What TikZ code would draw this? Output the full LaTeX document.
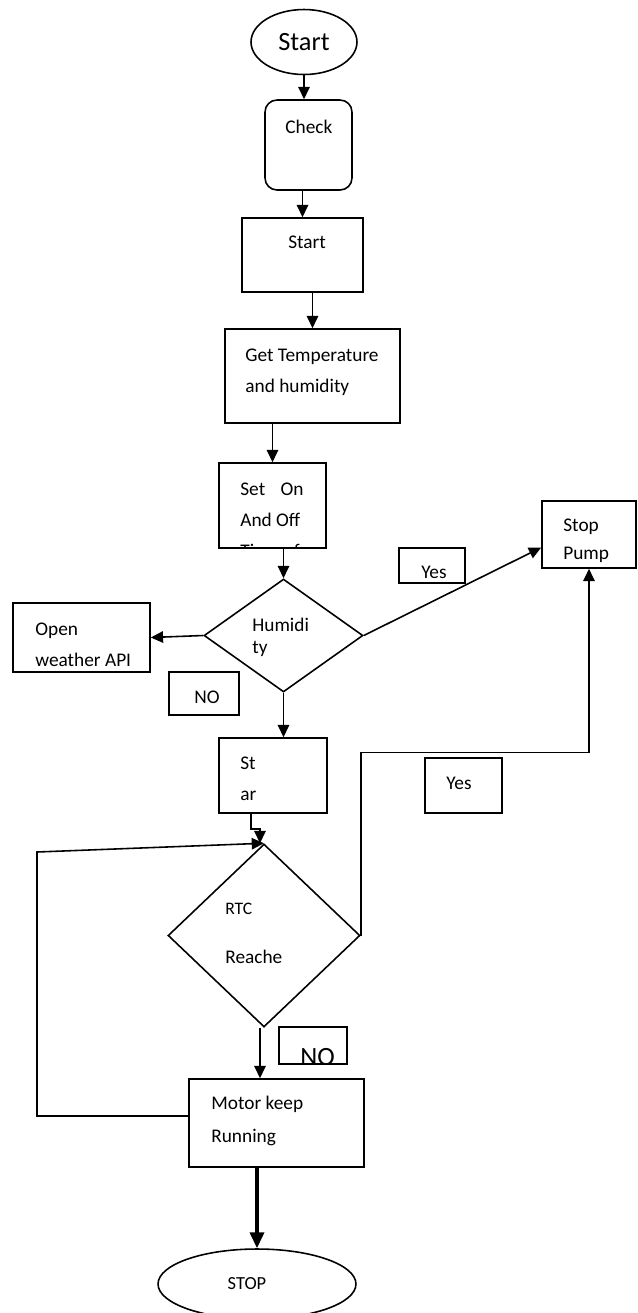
\documentclass[tikz,border=0pt]{standalone}
\usepackage{fontspec}
\setmainfont{Carlito}
\usetikzlibrary{shapes.geometric,arrows.meta}

\tikzset{
    box/.style={
           rectangle,
           draw=black, line width=0.9pt,
           inner sep=0pt,
           },
    term/.style={ellipse, draw=black, line width=0.9pt, inner sep=0pt},
    decision/.style={diamond, draw=black, line width=0.9pt, inner sep=0pt},
    txt/.style={anchor=base west, align=left, inner sep=0pt, font=\fontsize{11}{17.5}\selectfont},
    arr/.style={line width=0.9pt, -{Triangle[length=7pt,width=6.5pt]}},
}

\begin{document}
\begin{tikzpicture}[x=0.02cm,y=-0.02cm]
\useasboundingbox (0,0) rectangle (638,1313);

       % start and stop
       \node[term, minimum width=2.12cm, minimum height=1.3cm, font=\fontsize{15}{18}\selectfont] (START) at (304,42) {Start};
       \node[term, minimum width=3.96cm, minimum height=1.4cm, font=\fontsize{10.5}{12}\selectfont] (STOP) at (257,1284) {STOP\kern0.4cm};

       % boxes
       \node[box, rounded corners=0.24cm, minimum width=1.74cm, minimum height=1.8cm] (CHECK) at (308.5,145) {};
       \node[box, minimum width=2.42cm, minimum height=1.48cm] (STARTB) at (302.5,255) {};
       \node[box, minimum width=3.5cm, minimum height=1.88cm] (GETT) at (312.5,376) {};
       \node[box, minimum width=2.14cm, minimum height=1.7cm] (SETON) at (272.5,505.5) {};
       \node[decision, minimum width=3.18cm, minimum height=2.26cm] (HUMID) at (283.5,635.5) {};
       \node[box, minimum width=2.74cm, minimum height=1.38cm] (OPENW) at (81.5,637.5) {};
       \node[box, minimum width=1.4cm, minimum height=0.86cm] (NOA) at (204,693.5) {};
       \node[box, minimum width=1.32cm, minimum height=0.7cm] (YESA) at (432,565.5) {};
       \node[box, minimum width=1.88cm, minimum height=1.34cm] (STOPP) at (589,534.5) {};
       \node[box, minimum width=2.16cm, minimum height=1.5cm] (STARB) at (273,775.5) {};
       \node[box, minimum width=1.54cm, minimum height=1.1cm] (YESB) at (463.5,785.5) {};
       \node[decision, minimum width=3.84cm, minimum height=3.66cm] (RTC) at (264,935.5) {};
       \node[box, minimum width=1.36cm, minimum height=0.74cm] (NOB) at (313,1045.5) {};
       \node[box, minimum width=3.5cm, minimum height=1.76cm] (MOTOR) at (276.5,1123) {};

       % texts (base = last line)
       \node[txt] (CHECK-t) at (285,133) {Check};
       \node[txt] (STARTB-t) at (288,248) {Start};
       \node[txt] (GETT-t) at (245,392) {Get Temperature\\and humidity};
       \begin{scope}
       \clip (SETON.south west) rectangle (SETON.north east);
       \node[txt] (SETON-t) at (240,557) {Set\hspace{0.8em}On\\And Off\\Time of};
       \end{scope}
       \node[txt] (HUMID-t) at (252,653) {Humidi\\[-5pt]ty};
       \node[txt] (OPENW-t) at (35,666) {Open\\weather API};
       \node[txt, anchor=base] (NOA-t) at (207,703) {NO};
       \node[txt] (YESA-t) at (421,578) {Yes};
       \node[txt] (STOPP-t) at (563,559) {Stop\\[-2pt]Pump};
       \node[txt] (STARB-t) at (240,800) {St\\ar};
       \node[txt] (YESB-t) at (446,789) {Yes};
       \node[txt] (RTC-t) at (225,963) {{\fontsize{10}{12}\selectfont RTC}\\[10pt]Reache};
       \begin{scope}
       \clip (NOB.south west) rectangle (NOB.north east);
       \node[txt, font=\fontsize{15}{18}\selectfont] (NOB-t) at (300,1065) {NO};
       \end{scope}
       \node[txt] (MOTOR-t) at (211,1142) {Motor keep\\[1pt]Running};

       % connectors
       \draw[arr] (START.south) -- (START.south |- CHECK.north);
       \draw[arr] (STARTB.north |- CHECK.south) -- (STARTB.north);
       \draw[arr] (GETT.north |- STARTB.south) -- (GETT.north);
       \draw[arr] (SETON.north |- GETT.south) -- (SETON.north);
       \draw[arr] (HUMID.north |- SETON.south) -- (HUMID.north);
       \draw[arr] (HUMID.west) -- (OPENW.east);
       \draw[arr] (HUMID.east) -- ([yshift=-0.26cm]STOPP.west);
       \draw[arr] (HUMID.south) -- (HUMID.south |- STARB.north);
       \draw[arr] ([xshift=-0.44cm]STARB.south) -- ++(0,15) -| ([xshift=-0.08cm]RTC.north);
       \coordinate (LOOP) at (37,852);
       \draw[arr] ([yshift=0.14cm]MOTOR.west) -| (LOOP) -- (RTC.north);
       \draw[arr] (RTC.east) -- ++(0,-183) -| (STOPP.south);
       \draw[arr] ([xshift=-0.08cm]RTC.south) -- ([xshift=-0.08cm]RTC.south |- MOTOR.north);
       \draw[line width=1.8pt, -{Triangle[length=9pt,width=8pt]}] (STOP.north |- MOTOR.south) -- (STOP.north);

\end{tikzpicture}
\end{document}
